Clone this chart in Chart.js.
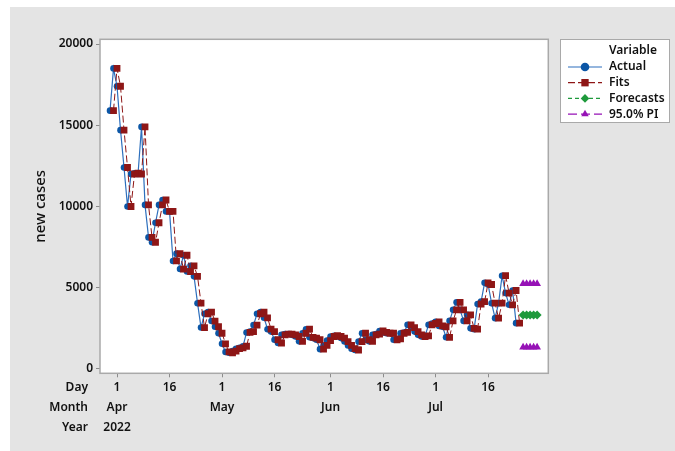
<!DOCTYPE html>
<html>
<head>
<meta charset="utf-8">
<title>new cases</title>
<script src="https://cdn.jsdelivr.net/npm/chart.js@4.4.0/dist/chart.umd.min.js"></script>
<style>
  html, body { margin: 0; padding: 0; background: #fff; }
</style>
</head>
<body>
<canvas id="casesChart" width="675" height="451"></canvas>
<script>
// daily series, first value is 2022-03-30
const startDate = "2022-03-30";

const actual = [
  15900, 18500, 17400, 14700, 12400, 10000, 12000, 12050, 12000, 14900,
  10100, 8100, 7800, 9000, 10100, 10400, 9700, 9700, 6650, 7100,
  6150, 7000, 6000, 6350, 5700, 4050, 2550, 3400, 3500, 2950,
  2600, 2200, 1550, 1050, 1000, 1100, 1250, 1300, 1400, 2250,
  2300, 2700, 3400, 3500, 3150, 2450, 2300, 1800, 1600, 2100,
  2150, 2150, 2100, 2000, 1700, 2200, 2450, 1950, 1900, 1800,
  1220, 1450, 1750, 2000, 2050, 2000, 1900, 1690, 1450, 1250,
  1170, 1690, 2200, 1800, 1700, 2100, 2150, 2340, 2250, 2200,
  2200, 1800, 1850, 2200, 2250, 2720, 2550, 2300, 2100, 2000,
  2040, 2720, 2800, 2900, 2650, 2600, 1950, 2960, 3640, 4100,
  3640, 2960, 3330, 2500, 2450, 4000, 4150, 5300, 5200, 4050,
  3130, 4050, 5740, 4670, 3950, 4830, 2820
];

// one-step fits, one period longer than the actuals
const fits = [
  null, 15900, 18500, 17400, 14700, 12400, 10000, 12000, 12050, 12000,
  14900, 10100, 8100, 7800, 9000, 10100, 10400, 9700, 9700, 6650,
  7100, 6150, 7000, 6000, 6350, 5700, 4050, 2550, 3400, 3500,
  2950, 2600, 2200, 1550, 1050, 1000, 1100, 1250, 1300, 1400,
  2250, 2300, 2700, 3400, 3500, 3150, 2450, 2300, 1800, 1600,
  2100, 2150, 2150, 2100, 2000, 1700, 2200, 2450, 1950, 1900,
  1800, 1220, 1450, 1750, 2000, 2050, 2000, 1900, 1690, 1450,
  1250, 1170, 1690, 2200, 1800, 1700, 2100, 2150, 2340, 2250,
  2200, 2200, 1800, 1850, 2200, 2250, 2720, 2550, 2300, 2100,
  2000, 2040, 2720, 2800, 2900, 2650, 2600, 1950, 2960, 3640,
  4100, 3640, 2960, 3330, 2500, 2450, 4000, 4150, 5300, 5200,
  4050, 3130, 4050, 5740, 4670, 3950, 4830, 2820
];

const forecasts = [3320, 3320, 3320, 3320, 3320];
const piUpper = [5240, 5240, 5240, 5240, 5240];
const piLower = [1340, 1340, 1340, 1340, 1340];

// x axis: Day / Month / Year rows
const tickDates = ["2022-04-01", "2022-04-16", "2022-05-01", "2022-05-16",
                   "2022-06-01", "2022-06-16", "2022-07-01", "2022-07-16"];
const dayLabels = ["1", "16", "1", "16", "1", "16", "1", "16"];
const monthLabels = ["Apr", "", "May", "", "Jun", "", "Jul", ""];
const yearLabels = ["2022", "", "", "", "", "", "", ""];
const rowTitles = ["Day", "Month", "Year"];

const yTicks = [0, 5000, 10000, 15000, 20000];

const FONT = "'Noto Sans', 'Open Sans', sans-serif";
const TEXT = "#111111";

function dayIndex(d) {
  const a = d.split("-").map(Number);
  const b = startDate.split("-").map(Number);
  return (Date.UTC(a[0], a[1] - 1, a[2]) - Date.UTC(b[0], b[1] - 1, b[2])) / 86400000;
}
const tickPos = tickDates.map(dayIndex);

const toXY = (arr, offset) => arr.map((v, i) => ({ x: i + offset, y: v }));

function drawMarker(ctx, style, x, y, r) {
  ctx.beginPath();
  if (style === "circle") {
    ctx.arc(x, y, r, 0, Math.PI * 2);
  } else if (style === "rect") {
    const s = r * Math.SQRT1_2;
    ctx.rect(x - s, y - s, 2 * s, 2 * s);
  } else if (style === "rectRot") {
    ctx.moveTo(x, y - r); ctx.lineTo(x + r, y); ctx.lineTo(x, y + r); ctx.lineTo(x - r, y);
    ctx.closePath();
  } else if (style === "triangle") {
    ctx.moveTo(x, y - r);
    ctx.lineTo(x + r * 0.866, y + r / 2);
    ctx.lineTo(x - r * 0.866, y + r / 2);
    ctx.closePath();
  }
  ctx.fill();
}

// grey page, white plot panel, frame, row titles and the legend box
const minitabFrame = {
  id: "minitabFrame",
  beforeDraw(chart) {
    const { ctx, chartArea: a } = chart;
    ctx.save();
    ctx.fillStyle = "#ffffff";
    ctx.fillRect(0, 0, chart.width, chart.height);
    ctx.fillStyle = "#e4e4e4";
    ctx.fillRect(10, 7, chart.width - 10, chart.height - 7);
    ctx.fillStyle = "#ffffff";
    ctx.fillRect(a.left, a.top, a.width, a.height);
    ctx.restore();
  },
  afterDraw(chart) {
    const { ctx, chartArea: a } = chart;
    ctx.save();
    ctx.strokeStyle = "#a9a9a9";
    ctx.lineWidth = 1.5;
    ctx.strokeRect(a.left, a.top, a.width, a.height);

    ctx.fillStyle = TEXT;
    ctx.font = "600 12px " + FONT;
    ctx.textAlign = "right";
    ctx.textBaseline = "middle";
    rowTitles.forEach((t, k) => ctx.fillText(t, 88, a.bottom + 4 + 10 + k * 20));

    // legend
    const bx = 560.5, by = 39.5, bw = 109, bh = 83;
    ctx.fillStyle = "#ffffff";
    ctx.fillRect(bx, by, bw, bh);
    ctx.strokeStyle = "#a9a9a9";
    ctx.lineWidth = 1;
    ctx.strokeRect(bx, by, bw, bh);
    ctx.textAlign = "left";
    ctx.fillStyle = TEXT;
    ctx.fillText("Variable", 609, 51);

    const seen = [];
    chart.data.datasets.forEach((ds) => {
      if (seen.includes(ds.label)) return;
      seen.push(ds.label);
      const y = 67 + (seen.length - 1) * 15.7;
      ctx.strokeStyle = ds.borderColor;
      ctx.lineWidth = 1.2;
      ctx.setLineDash(ds.borderDash || []);
      ctx.beginPath();
      ctx.moveTo(568, y);
      ctx.lineTo(602, y);
      ctx.stroke();
      ctx.setLineDash([]);
      ctx.fillStyle = ds.pointBackgroundColor;
      drawMarker(ctx, ds.pointStyle, 585, y, ds.pointStyle === "rect" ? 5.2 : 4.3);
      ctx.fillStyle = TEXT;
      ctx.fillText(ds.label, 609, y);
    });
    ctx.restore();
  }
};

const forecastStart = fits.length;

new Chart(document.getElementById("casesChart"), {
  type: "line",
  data: {
    datasets: [
      {
        label: "Actual",
        data: toXY(actual, 0),
        borderColor: "#2d6fbd",
        borderWidth: 1.2,
        pointStyle: "circle",
        pointRadius: 3.3,
        pointBackgroundColor: "#0b56a6",
        pointBorderWidth: 0,
        order: 2,
      },
      {
        label: "Fits",
        data: toXY(fits, 0),
        borderColor: "#8e1616",
        borderWidth: 1,
        borderDash: [7, 3],
        pointStyle: "rect",
        pointRadius: 4.8,
        pointBackgroundColor: "#8e1616",
        pointBorderWidth: 0,
        order: 1,
      },
      {
        label: "Forecasts",
        data: toXY(forecasts, forecastStart),
        borderColor: "#1e9a3c",
        borderWidth: 1.2,
        borderDash: [4, 3],
        pointStyle: "rectRot",
        pointRadius: 4.5,
        pointBackgroundColor: "#1e9a3c",
        pointBorderWidth: 0,
        order: 0,
      },
      {
        label: "95.0% PI",
        data: toXY(piUpper, forecastStart),
        borderColor: "#9612b6",
        borderWidth: 1.2,
        borderDash: [9, 4],
        pointStyle: "triangle",
        pointRadius: 4.5,
        pointBackgroundColor: "#9612b6",
        pointBorderWidth: 0,
        order: 0,
      },
      {
        label: "95.0% PI",
        data: toXY(piLower, forecastStart),
        borderColor: "#9612b6",
        borderWidth: 1.2,
        borderDash: [9, 4],
        pointStyle: "triangle",
        pointRadius: 4.5,
        pointBackgroundColor: "#9612b6",
        pointBorderWidth: 0,
        order: 0,
      },
    ],
  },
  options: {
    responsive: false,
    animation: false,
    devicePixelRatio: 1,
    layout: { padding: { left: 32, top: 39.3, right: 126.7, bottom: 0 } },
    plugins: {
      legend: { display: false },
      tooltip: { enabled: false },
    },
    scales: {
      x: {
        type: "linear",
        min: -2.86,
        max: 125.2,
        afterBuildTicks: (scale) => {
          scale.ticks = tickPos.map((v) => ({ value: v }));
        },
        afterFit: (scale) => {
          scale.height = 77.7;
        },
        grid: { drawOnChartArea: false, drawTicks: true, tickLength: 4, color: "#8c8c8c" },
        border: { display: false },
        ticks: {
          autoSkip: false,
          maxRotation: 0,
          padding: 0,
          color: TEXT,
          font: { family: FONT, size: 12, weight: "600", lineHeight: "20px" },
          callback: (value, i) =>
            [dayLabels[i], monthLabels[i], yearLabels[i]].filter((s, k, all) =>
              all.slice(k).some((t) => t !== "")),
        },
      },
      y: {
        min: -265,
        max: 20290,
        afterBuildTicks: (scale) => {
          scale.ticks = yTicks.map((v) => ({ value: v }));
        },
        afterFit: (scale) => {
          scale.width = 68;
        },
        grid: { drawOnChartArea: false, drawTicks: true, tickLength: 4, color: "#8c8c8c" },
        border: { display: false },
        ticks: {
          padding: 3,
          color: TEXT,
          font: { family: FONT, size: 12, weight: "600" },
          callback: (v) => String(v),
        },
        title: {
          display: true,
          text: "new cases",
          color: TEXT,
          padding: 0,
          font: { family: FONT, size: 15, weight: "500" },
        },
      },
    },
  },
  plugins: [minitabFrame],
});
</script>
</body>
</html>
